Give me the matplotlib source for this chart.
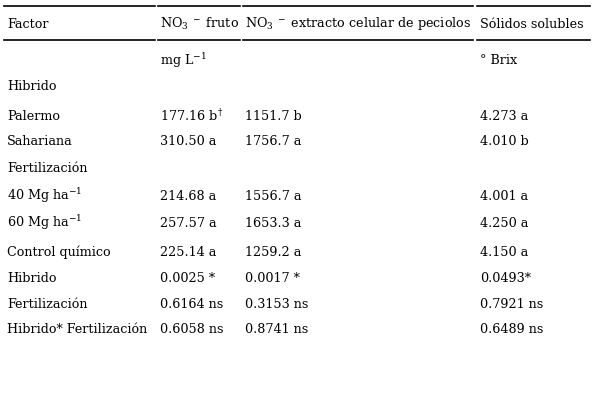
import matplotlib
matplotlib.use("Agg")
import matplotlib.pyplot as plt
from matplotlib.lines import Line2D

plt.rcParams["mathtext.fontset"] = "dejavuserif"

W, H = 594, 415
headers = ["Factor", r"NO$_3$$^{\ -}$ fruto", r"NO$_3$$^{\ -}$ extracto celular de peciolos", "Sólidos solubles"]
units = ["", r"mg L$^{-1}$", "", "° Brix"]
factors = ["Hibrido", "Palermo", "Sahariana", "Fertilización", r"40 Mg ha$^{-1}$", r"60 Mg ha$^{-1}$",
           "Control químico", "Hibrido", "Fertilización", "Hibrido* Fertilización"]
col_fruto = ["", r"177.16 b$^{\dagger}$", "310.50 a", "", "214.68 a", "257.57 a", "225.14 a",
             "0.0025 *", "0.6164 ns", "0.6058 ns"]
col_peciolo = ["", "1151.7 b", "1756.7 a", "", "1556.7 a", "1653.3 a", "1259.2 a",
               "0.0017 *", "0.3153 ns", "0.8741 ns"]
col_solidos = ["", "4.273 a", "4.010 b", "", "4.001 a", "4.250 a", "4.150 a",
               "0.0493*", "0.7921 ns", "0.6489 ns"]

fig = plt.figure(figsize=(W/100, H/100), dpi=100)
fig.patch.set_facecolor("white")
fam = "DejaVu Serif"
fs = 9.2
colx = [7, 160, 245, 480]
segs = [(4, 155), (158, 240), (243, 473), (477, 590)]

def fx(px): return px / W
def fy(py): return 1 - py / H

for y in (6, 40):
    for a, b in segs:
        fig.add_artist(Line2D([fx(a), fx(b)], [fy(y), fy(y)], color="black", lw=1.2))

for x, t in zip(colx, headers):
    fig.text(fx(x), fy(24), t, family=fam, fontsize=fs, va="center")
for x, t in zip(colx, units):
    if t:
        fig.text(fx(x), fy(61), t, family=fam, fontsize=fs, va="center")

row_y = [87, 116, 141, 168, 196, 223, 252, 278, 304, 329]
for i, y in enumerate(row_y):
    for x, col in zip(colx, [factors, col_fruto, col_peciolo, col_solidos]):
        if col[i]:
            fig.text(fx(x), fy(y), col[i], family=fam, fontsize=fs, va="center")

fig.savefig("out.png", dpi=100)
